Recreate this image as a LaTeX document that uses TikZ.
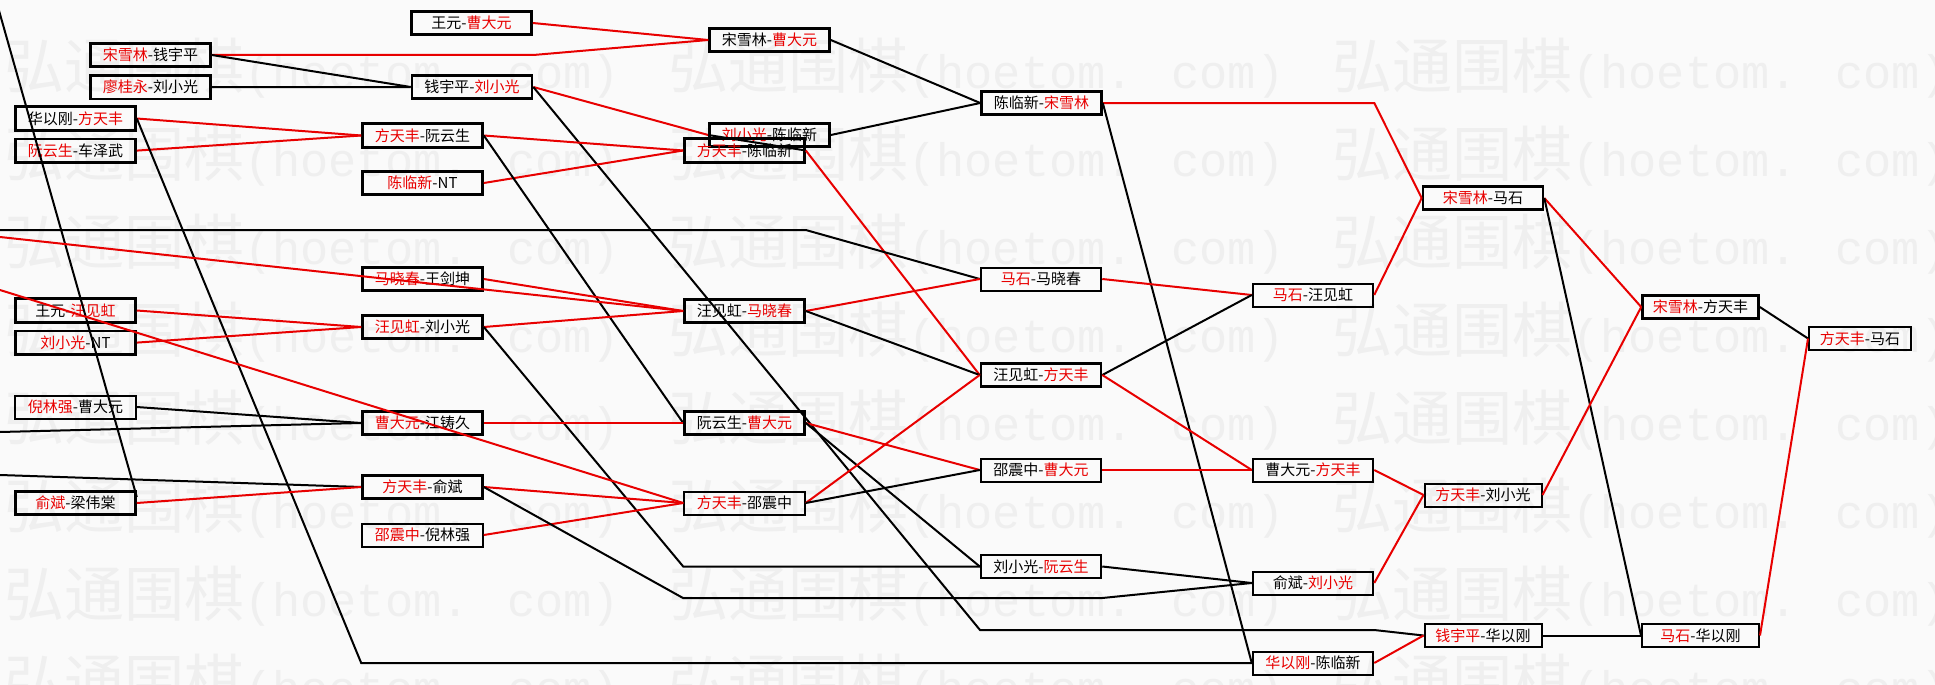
\documentclass[tikz,border=0pt]{standalone}
\usepackage{fontspec}
\setmainfont{Noto Sans CJK SC}
\newfontfamily\wmcjk{Noto Sans CJK SC}
\newfontfamily\wmlat{Liberation Mono}
\usepackage{xcolor}
\usetikzlibrary{positioning}
\definecolor{winred}{RGB}{232,0,0}
\definecolor{paper}{RGB}{250,250,250}
\definecolor{wmgray}{RGB}{239,239,239}
\tikzset{
  game/.style={draw=black, line width=2.6pt, inner sep=0pt,
    minimum width=120pt, minimum height=23.5pt,
    font=\fontsize{15}{17}\selectfont},
  lgame/.style={game, line width=2pt, minimum width=120.5pt, minimum height=23pt},
  win/.style={winred, line width=2pt},
  lose/.style={black, line width=2pt},
  wmark/.style={wmgray, anchor=west, inner sep=0pt}
}
\newcommand{\wn}[1]{\textcolor{winred}{#1}}
\newcommand{\wmtext}{{\wmcjk\fontsize{60}{60}\selectfont 弘通围棋}{\wmlat\fontsize{47}{60}\selectfont(hoetom. com)}}

\begin{document}
\begin{tikzpicture}[x=1pt, y=-1pt]
  \useasboundingbox (0,0) rectangle (1935,685);
  \fill[paper] (0,0) rectangle (1935,685);

  % watermark
  \foreach \wy in {68,156,...,684}
    \foreach \wx in {4,668,1332}
      \node[wmark] (wm-\wx-\wy) at (\wx,\wy) {\wmtext};

  % first round
  \node[game] (wcy) at (471.5,23) {王元-\wn{曹大元}};
  \node[game] (sq) at (150.5,55) {\wn{宋雪林}-钱宇平};
  \node[game, below=6pt of sq] (lg) {\wn{廖桂永}-刘小光};
  \node[game] (hf) at (75.5,118.5) {华以刚-\wn{方天丰}};
  \node[game, below=6pt of hf] (rc) {\wn{阮云生}-车泽武};
  \node[game] (wwh) at (75.5,310.5) {王元-\wn{汪见虹}};
  \node[game, below=6pt of wwh] (ln) {\wn{刘小光}-NT};
  \node[lgame] (nc) at (75.5,407) {\wn{倪林强}-曹大元};
  \node[game] (yl) at (75.5,503) {\wn{俞斌}-梁伟棠};

  % second round
  \node[game] (ql) at (472,87) {钱宇平-\wn{刘小光}};
  \node[game] (fr) at (422.5,135.5) {\wn{方天丰}-阮云生};
  \node[game] (cn) at (422.5,183) {\wn{陈临新}-NT};
  \node[game] (mw) at (422.5,279) {\wn{马晓春}-王剑坤};
  \node[game] (wl) at (422.5,327) {\wn{汪见虹}-刘小光};
  \node[game] (cj) at (422.5,423) {\wn{曹大元}-江铸久};
  \node[game] (fy) at (422.5,487) {\wn{方天丰}-俞斌};
  \node[lgame] (sn) at (422.5,535) {\wn{邵震中}-倪林强};

  % third round
  \node[game] (sc) at (769.5,40) {宋雪林-\wn{曹大元}};
  \node[game] (lc) at (769.5,135) {\wn{刘小光}-陈临新};
  \node[game] (fc) at (744.5,150.5) {\wn{方天丰}-陈临新};
  \node[game] (wm) at (744.5,311) {汪见虹-\wn{马晓春}};
  \node[game] (rcd) at (744.5,423) {阮云生-\wn{曹大元}};
  \node[lgame] (fs) at (744.5,503) {\wn{方天丰}-邵震中};

  % fourth round
  \node[game] (cs) at (1041.5,103) {陈临新-\wn{宋雪林}};
  \node[lgame] (mm) at (1041,279) {\wn{马石}-马晓春};
  \node[game] (wf) at (1041,375) {汪见虹-\wn{方天丰}};
  \node[lgame] (scd) at (1041,470) {邵震中-\wn{曹大元}};
  \node[lgame] (lr) at (1041,566.5) {刘小光-\wn{阮云生}};

  % fifth round
  \node[lgame] (mwh) at (1313,295) {\wn{马石}-汪见虹};
  \node[lgame] (cf) at (1313,470) {曹大元-\wn{方天丰}};
  \node[lgame] (yli) at (1313,583) {俞斌-\wn{刘小光}};
  \node[lgame] (hc) at (1313,663) {\wn{华以刚}-陈临新};

  % final rounds
  \node[game] (sm) at (1483,198) {\wn{宋雪林}-马石};
  \node[lgame, minimum width=117pt] (fl) at (1483,495) {\wn{方天丰}-刘小光};
  \node[lgame, minimum width=117pt] (qh) at (1483,635.5) {\wn{钱宇平}-华以刚};
  \node[game, minimum width=116pt] (sf) at (1700.5,307) {\wn{宋雪林}-方天丰};
  \node[lgame, minimum width=117pt] (mh) at (1700.5,635.5) {\wn{马石}-华以刚};
  \node[lgame, minimum width=102pt] (fm) at (1860,338.5) {\wn{方天丰}-马石};

  % entries from the left edge
  \coordinate (in0) at (-4,0);
  \coordinate (in1) at (0,230);
  \coordinate (in2) at (0,237);
  \coordinate (in3) at (0,290);
  \coordinate (in4) at (0,432);
  \coordinate (in5) at (0,475);
  \coordinate (qbend) at (980,630);
  \coordinate (ybend) at (683,598);

  % connectors
  \draw[win] (wcy.east) -- (sc.west);
  \draw[win] (sq.east) -- (sq.east -| ql.east) -- (sc.west);
  \draw[lose] (sq.east) -- (ql.west);
  \draw[lose] (lg.east) -- (ql.west);
  \draw[win] (hf.east) -- (fr.west);
  \draw[win] (rc.east) -- (fr.west);
  \draw[lose] (hf.east) -- (fr.west |- hc.west) -- (hc.west);
  \draw[lose] (in0) -- ([yshift=6pt]yl.east);
  \draw[win] (ql.east) -- (lc.west);
  \draw[lose] (ql.east) -- (qbend) -- (qbend -| hc.east) -- (qh.west);
  \draw[win] (fr.east) -- (fc.west);
  \draw[win] (cn.east) -- (fc.west);
  \draw[lose] (fr.east) -- (rcd.west);
  \draw[lose] (fc.east) -- (lc.west);
  \draw[lose] (sc.east) -- (cs.west);
  \draw[lose] (lc.east) -- (cs.west);
  \draw[win] (fc.east) -- (wf.west);
  \draw[win] (cs.east) -- (cs.east -| hc.east) -- (sm.west);
  \draw[lose] (cs.east) -- (hc.west);
  \draw[lose] (in1) -- (in1 -| fc.east) -- (mm.west);
  \draw[win] (in2) -- (wm.west);
  \draw[win] (mw.east) -- (wm.west);
  \draw[win] (wwh.east) -- (wl.west);
  \draw[win] (ln.east) -- (wl.west);
  \draw[win] (wl.east) -- (wm.west);
  \draw[lose] (wl.east) -- (wm.west |- lr.west) -- (lr.west);
  \draw[win] (in3) -- (fs.west);
  \draw[lose] (nc.east) -- (cj.west);
  \draw[lose] (in4) -- (cj.west);
  \draw[win] (cj.east) -- (rcd.west);
  \draw[lose] (in5) -- (fy.west);
  \draw[win] (yl.east) -- (fy.west);
  \draw[win] (fy.east) -- (fs.west);
  \draw[win] (sn.east) -- (fs.west);
  \draw[lose] (fy.east) -- (ybend) -- (ybend -| lr.east) -- (yli.west);
  \draw[win] (wm.east) -- (mm.west);
  \draw[lose] (wm.east) -- (wf.west);
  \draw[win] (rcd.east) -- (scd.west);
  \draw[lose] (rcd.east) -- (lr.west);
  \draw[win] (fs.east) -- (wf.west);
  \draw[lose] (fs.east) -- (scd.west);
  \draw[win] (mm.east) -- (mwh.west);
  \draw[lose] (wf.east) -- (mwh.west);
  \draw[win] (wf.east) -- (cf.west);
  \draw[win] (scd.east) -- (cf.west);
  \draw[lose] (lr.east) -- (yli.west);
  \draw[win] (mwh.east) -- (sm.west);
  \draw[win] (cf.east) -- (fl.west);
  \draw[win] (yli.east) -- (fl.west);
  \draw[win] (hc.east) -- (qh.west);
  \draw[win] (sm.east) -- (sf.west);
  \draw[lose] (sm.east) -- (mh.west);
  \draw[win] (fl.east) -- (sf.west);
  \draw[lose] (qh.east) -- (mh.west);
  \draw[lose] (sf.east) -- (fm.west);
  \draw[win] (mh.east) -- (fm.west);
\end{tikzpicture}
\end{document}
